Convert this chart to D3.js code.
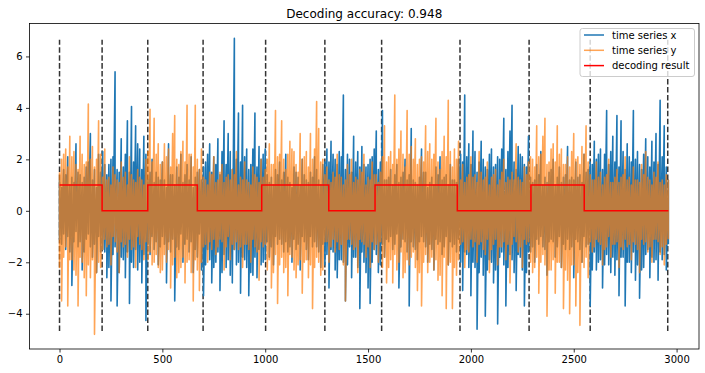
<!DOCTYPE html>
<html>
<head>
<meta charset="utf-8">
<script src="https://cdn.jsdelivr.net/npm/d3@7/dist/d3.min.js"></script>
<style>
  html, body { margin: 0; padding: 0; background: #fff; }
  svg { display: block; font-family: "DejaVu Sans", sans-serif; }
</style>
</head>
<body>
<div class="canvas"></div>
<script>
// the series are dense (about 5 samples per pixel), so they are kept as
// the high / low extremes per bin of 10 time steps
const BIN_STEP = 10;

// time series x (blue)
const xHigh = [
  1.2, 0.9, 1.6, 1.4, 2.1, 1.0, 1.3, 1.1, 2.6, 1.5,
  1.4, 1.1, 1.3, 1.7, 1.9, 3.0, 1.2, 1.6, 0.9, 2.2,
  1.5, 2.3, 1.8, 1.4, 1.8, 2.0, 2.1, 5.4, 1.6, 1.5,
  2.8, 1.7, 2.2, 3.5, 1.5, 4.05, 1.9, 3.3, 2.6, 2.4,
  1.6, 2.9, 2.2, 1.2, 1.5, 2.0, 1.1, 1.5, 1.3, 1.2,
  1.9, 1.2, 0.9, 2.6, 1.4, 1.4, 1.0, 1.7, 1.3, 2.2,
  1.1, 1.4, 1.8, 1.2, 2.1, 0.9, 1.3, 1.5, 1.6, 1.2,
  1.7, 1.9, 2.2, 2.6, 1.5, 2.1, 1.8, 2.8, 1.4, 2.3,
  3.5, 1.8, 3.0, 2.3, 1.6, 6.7, 2.0, 3.8, 1.9, 4.1,
  2.1, 2.4, 1.6, 1.8, 2.4, 3.8, 1.7, 2.5, 2.0, 2.2,
  2.4, 1.4, 1.1, 1.3, 1.0, 1.6, 1.4, 1.9, 1.2, 1.5,
  2.2, 1.3, 1.1, 0.9, 1.7, 1.5, 1.3, 1.0, 2.0, 1.4,
  1.2, 1.1, 1.5, 1.3, 2.1, 1.6, 1.2, 1.0, 1.8, 1.9,
  2.4, 1.9, 2.7, 2.2, 2.0, 1.8, 2.3, 2.1, 4.5, 1.6,
  2.2, 2.0, 1.5, 2.9, 1.9, 2.3, 1.7, 2.5, 1.8, 1.7,
  1.8, 2.0, 2.1, 2.4, 3.1, 1.6, 1.9, 3.9, 1.2, 1.2,
  1.3, 1.6, 1.0, 1.4, 1.8, 1.1, 1.3, 1.5, 2.0, 1.2,
  1.4, 3.2, 1.2, 1.1, 1.0, 1.3, 2.4, 1.5, 1.5, 0.9,
  1.1, 1.3, 1.0, 1.7, 1.4, 2.1, 1.2, 1.3, 1.4, 1.0,
  1.8, 1.2, 1.2, 1.1, 2.0, 2.2, 1.9, 4.5, 2.1, 2.6,
  1.8, 3.1, 2.3, 1.5, 1.9, 2.7, 2.0, 1.7, 1.6, 2.2,
  2.4, 1.7, 1.8, 2.1, 2.0, 2.4, 3.6, 1.6, 2.3, 3.1,
  4.1, 1.9, 1.6, 2.5, 2.2, 2.1, 1.8, 1.7, 2.9, 1.3,
  1.1, 1.2, 1.8, 1.4, 2.3, 1.0, 1.3, 1.1, 1.5, 1.6,
  2.0, 1.0, 1.3, 1.7, 1.1, 1.3, 1.4, 2.5, 1.2, 1.3,
  1.2, 1.9, 1.3, 1.4, 1.1, 2.2, 1.5, 1.6, 1.9, 1.8,
  2.7, 2.0, 2.2, 2.4, 1.6, 2.2, 3.9, 1.8, 2.3, 2.9,
  1.9, 3.7, 1.7, 3.5, 2.3, 1.6, 2.6, 2.1, 1.9, 3.9,
  2.0, 2.3, 1.8, 1.6, 2.2, 2.8, 2.1, 1.7, 2.7, 1.9,
  3.0, 1.8, 4.3, 2.1, 3.3, 1.7, 1.2
];
const xLow = [
  -1.1, -1.3, -0.9, -1.5, -1.0, -1.6, -2.9, -1.2, -0.8, -1.4,
  -1.2, -2.3, -1.6, -1.1, -0.9, -1.4, -1.8, -1.3, -2.4, -1.0,
  -1.6, -1.5, -1.6, -2.6, -2.2, -3.5, -1.7, -1.4, -3.7, -2.4,
  -1.8, -1.9, -2.6, -1.6, -3.6, -2.0, -2.2, -1.5, -2.3, -2.0,
  -2.8, -1.7, -4.26, -1.3, -1.7, -1.0, -1.5, -1.2, -2.1, -1.4,
  -1.0, -1.3, -2.8, -1.2, -1.6, -1.1, -3.5, -1.4, -1.5, -0.9,
  -2.0, -1.3, -1.1, -1.6, -1.2, -2.4, -1.5, -1.8, -0.9, -2.3,
  -3.3, -2.1, -1.5, -1.9, -2.8, -2.2, -2.0, -1.6, -3.1, -2.4,
  -1.7, -2.2, -1.9, -2.5, -2.8, -1.5, -2.1, -2.0, -3.2, -1.8,
  -1.9, -2.2, -3.3, -2.4, -2.5, -1.8, -2.6, -1.5, -2.1, -2.0,
  -1.9, -1.2, -1.8, -1.4, -2.1, -1.0, -1.3, -1.1, -1.3, -1.6,
  -1.2, -1.6, -1.4, -2.0, -1.1, -1.5, -1.3, -2.3, -1.0, -1.2,
  -1.5, -1.9, -1.0, -1.4, -1.2, -1.4, -1.6, -2.2, -1.3, -2.1,
  -1.7, -3.0, -1.5, -1.6, -2.3, -2.6, -1.9, -1.9, -2.0, -3.5,
  -2.1, -1.4, -2.6, -1.8, -1.8, -2.2, -3.8, -1.6, -2.0, -2.4,
  -3.0, -3.6, -2.0, -1.5, -1.7, -2.4, -2.1, -1.3, -1.8, -1.1,
  -1.2, -1.0, -1.5, -1.3, -0.9, -3.0, -1.4, -1.1, -1.2, -1.6,
  -3.7, -1.2, -1.4, -1.5, -1.9, -1.2, -1.0, -1.2, -1.4, -2.0,
  -1.3, -1.5, -2.3, -1.1, -1.3, -1.2, -1.7, -1.4, -1.0, -2.1,
  -1.2, -1.4, -1.3, -1.6, -1.1, -2.0, -3.1, -1.6, -1.7, -2.2,
  -3.3, -2.0, -2.2, -4.6, -2.4, -1.8, -2.5, -4.1, -2.3, -1.9,
  -2.0, -2.8, -2.3, -4.4, -1.8, -1.6, -2.1, -3.7, -2.2, -1.7,
  -1.9, -2.4, -3.1, -1.7, -1.8, -2.3, -3.7, -2.4, -1.6, -1.6,
  -1.4, -2.0, -1.1, -1.3, -1.0, -1.4, -1.5, -2.5, -1.2, -1.1,
  -1.2, -1.8, -1.4, -1.0, -2.2, -1.3, -1.5, -1.1, -1.5, -1.4,
  -2.6, -1.1, -1.2, -1.5, -2.0, -1.0, -1.4, -1.3, -3.7, -2.3,
  -1.6, -2.3, -2.0, -1.9, -3.0, -2.1, -1.7, -2.1, -2.4, -1.8,
  -2.5, -1.9, -3.3, -1.8, -1.8, -3.7, -2.0, -2.0, -2.4, -1.6,
  -2.7, -2.1, -3.4, -2.3, -2.2, -1.7, -1.5, -2.6, -1.8, -2.0,
  -1.9, -2.7, -1.6, -1.9, -1.7, -2.3, -1.3
];

// time series y (orange)
const yHigh = [
  1.5, 2.0, 2.2, 2.4, 1.7, 2.9, 2.1, 2.3, 1.8, 1.6,
  2.9, 2.2, 1.8, 1.9, 4.15, 2.0, 2.5, 1.7, 2.0, 3.5,
  2.2, 1.3, 2.4, 1.2, 1.3, 1.0, 1.7, 1.4, 1.2, 1.1,
  1.9, 1.3, 1.5, 1.0, 2.1, 1.4, 1.2, 1.1, 1.6, 1.3,
  1.2, 1.0, 2.0, 2.3, 3.95, 1.9, 3.6, 2.2, 2.6, 1.8,
  1.9, 2.6, 2.1, 2.4, 1.7, 3.0, 3.7, 2.0, 1.8, 2.3,
  2.7, 1.9, 4.1, 2.2, 2.2, 1.7, 4.1, 2.0, 1.6, 2.4,
  1.3, 1.2, 1.0, 1.5, 1.4, 2.1, 1.1, 1.2, 1.5, 1.8,
  1.1, 1.3, 1.4, 1.2, 1.6, 1.4, 2.3, 1.0, 1.3, 1.2,
  1.9, 1.2, 1.1, 1.0, 1.7, 1.4, 1.3, 1.1, 2.0, 1.3,
  1.6, 2.0, 2.6, 1.8, 1.8, 3.9, 2.1, 2.2, 3.5, 2.0,
  1.6, 2.2, 2.7, 2.4, 2.3, 1.8, 1.5, 3.0, 2.0, 2.1,
  2.3, 1.7, 3.0, 2.0, 2.4, 4.25, 3.2, 1.9, 2.0, 1.4,
  1.7, 1.2, 1.1, 1.5, 1.3, 2.2, 1.4, 1.3, 1.0, 1.2,
  1.8, 1.4, 2.0, 1.1, 1.3, 1.2, 1.6, 1.5, 2.2, 1.0,
  1.3, 1.2, 1.9, 1.4, 1.4, 1.1, 1.5, 2.1, 3.3, 1.9,
  2.1, 2.3, 1.8, 4.5, 2.0, 2.4, 3.1, 2.2, 1.7, 3.9,
  2.2, 2.5, 2.0, 2.8, 1.8, 2.0, 2.1, 1.9, 3.3, 2.3,
  2.6, 2.0, 2.2, 3.6, 1.9, 1.6, 2.3, 2.9, 2.1, 4.3,
  2.3, 1.7, 2.4, 2.0, 2.7, 1.2, 1.8, 1.1, 1.3, 1.4,
  2.1, 1.3, 1.4, 1.1, 2.3, 1.5, 1.2, 1.3, 1.9, 1.0,
  1.3, 1.4, 1.6, 1.0, 1.2, 1.5, 2.0, 1.1, 1.3, 1.2,
  1.5, 1.2, 2.6, 1.3, 1.2, 1.1, 1.7, 1.4, 1.9, 2.1,
  2.0, 1.7, 3.3, 2.1, 2.2, 2.9, 3.6, 1.8, 1.9, 2.4,
  2.6, 1.9, 3.3, 2.2, 2.4, 1.8, 1.8, 2.1, 1.7, 2.3,
  3.0, 2.0, 2.1, 1.8, 2.5, 2.2, 3.3, 1.9, 1.4, 1.2,
  1.2, 1.9, 1.3, 1.5, 1.0, 1.3, 1.4, 2.0, 1.1, 1.1,
  1.3, 1.6, 1.1, 1.3, 1.4, 2.1, 1.2, 1.3, 1.0, 1.7,
  1.2, 1.2, 1.1, 1.8, 1.4, 2.3, 1.3, 1.2, 1.0, 1.5,
  1.3, 1.9, 1.1, 1.2, 1.0, 1.4, 1.2
];
const yLow = [
  -2.2, -3.5, -1.8, -1.4, -3.7, -1.9, -1.9, -2.3, -2.5, -3.7,
  -1.8, -2.0, -2.6, -3.3, -2.1, -2.6, -1.9, -4.8, -2.4, -2.0,
  -2.2, -1.5, -1.1, -1.4, -1.3, -2.1, -1.0, -1.2, -1.6, -2.4,
  -1.2, -1.4, -1.3, -1.8, -1.1, -1.5, -1.4, -2.2, -1.0, -1.3,
  -1.5, -1.9, -1.2, -1.9, -1.6, -2.1, -2.0, -1.7, -2.2, -2.4,
  -2.3, -1.7, -2.0, -1.5, -3.0, -2.1, -1.8, -2.6, -2.4, -2.2,
  -1.8, -2.8, -2.0, -1.9, -2.4, -3.5, -1.9, -2.3, -3.1, -2.0,
  -1.4, -1.3, -2.0, -1.2, -1.5, -1.1, -1.7, -1.4, -1.1, -1.2,
  -2.3, -1.4, -1.0, -1.9, -1.3, -1.5, -1.2, -1.5, -1.4, -2.2,
  -1.3, -1.3, -1.5, -2.0, -1.1, -1.4, -1.6, -2.7, -1.2, -1.4,
  -1.3, -2.3, -1.9, -3.0, -2.4, -1.7, -3.6, -2.1, -1.8, -2.4,
  -2.2, -3.3, -1.7, -1.8, -2.3, -2.6, -2.1, -1.9, -3.2, -2.0,
  -1.9, -2.6, -2.1, -3.8, -2.2, -1.8, -2.0, -2.5, -2.3, -1.2,
  -1.2, -2.0, -1.4, -1.1, -1.6, -1.2, -1.5, -1.3, -2.1, -3.5,
  -1.1, -1.1, -1.3, -1.5, -1.4, -2.4, -1.1, -1.2, -1.3, -1.8,
  -1.4, -2.2, -1.2, -1.5, -1.3, -2.0, -1.2, -2.2, -1.8, -2.8,
  -2.2, -1.9, -2.8, -1.7, -2.3, -2.0, -1.6, -2.6, -2.4, -1.9,
  -2.1, -1.8, -1.6, -2.2, -3.1, -2.4, -3.7, -2.0, -1.7, -2.4,
  -2.0, -1.8, -2.3, -1.9, -2.7, -2.5, -3.3, -1.8, -3.8, -2.1,
  -2.0, -3.8, -2.2, -2.5, -1.9, -1.3, -1.2, -2.2, -1.5, -1.6,
  -1.1, -1.4, -1.2, -2.0, -1.3, -1.2, -1.5, -1.7, -1.1, -2.4,
  -1.5, -1.3, -1.1, -2.1, -1.4, -1.4, -1.2, -1.9, -1.3, -2.8,
  -1.3, -1.0, -1.2, -1.6, -1.4, -2.2, -1.1, -1.3, -1.2, -2.0,
  -2.4, -2.2, -1.8, -3.2, -2.0, -1.7, -2.1, -4.1, -2.3, -2.3,
  -1.9, -3.2, -2.0, -2.0, -2.2, -3.8, -2.3, -2.7, -4.0, -2.1,
  -2.1, -3.7, -2.4, -4.45, -2.0, -2.2, -1.8, -2.6, -1.2, -1.6,
  -1.4, -1.1, -1.2, -1.3, -2.1, -1.5, -1.4, -1.0, -1.8, -1.3,
  -1.3, -1.2, -2.2, -1.4, -1.5, -1.1, -1.4, -1.3, -1.9, -1.2,
  -1.3, -1.5, -2.4, -1.1, -1.3, -1.2, -1.6, -1.4, -2.0, -1.1,
  -1.1, -1.2, -1.7, -1.4, -2.1, -1.3, -1.1
];

// true change points (dashed lines) and their vertical extent
const changePoints = [0, 207, 429, 698, 1002, 1290, 1566, 1947, 2283, 2580, 2957];
const changeLineSpan = [-4.67, 6.65];

// decoding result: state starts and values
const decodeStarts = [0, 207, 429, 670, 983, 1309, 1534, 1934, 2292, 2551];
const decodeStates = [1, 0, 1, 0, 1, 0, 1, 0, 1, 0];
const decodeEnd = 2960;

const xTicks = [0, 500, 1000, 1500, 2000, 2500, 3000];
const yTicks = [-4, -2, 0, 2, 4, 6];
const legendLabels = ['time series x', 'time series y', 'decoding result'];
const titleText = 'Decoding accuracy: 0.948';

const width = 705, height = 373;
const margin = {top: 23.5, right: 6, bottom: 24, left: 29.5};
const graphWidth = width - margin.left - margin.right;
const graphHeight = height - margin.top - margin.bottom;

const colors = {x: '#1f77b4', y: '#ff7f0e', decode: '#ff0000'};

const svg = d3.select('.canvas')
  .append('svg')
  .attr('width', width)
  .attr('height', height);

const graph = svg.append('g')
  .attr('transform', `translate(${margin.left}, ${margin.top})`);

// scales
const x = d3.scaleLinear().domain([-146, 3109]).range([0, graphWidth]);
const y = d3.scaleLinear().domain([-5.37, 7.28]).range([graphHeight, 0]);

// dashed change point lines (behind the series)
graph.append('g')
  .selectAll('line')
  .data(changePoints)
  .enter().append('line')
    .attr('x1', d => x(d))
    .attr('x2', d => x(d))
    .attr('y1', y(changeLineSpan[0]))
    .attr('y2', y(changeLineSpan[1]))
    .attr('stroke', '#000')
    .attr('stroke-opacity', 0.8)
    .attr('stroke-width', 1.5)
    .attr('stroke-dasharray', '5.55,2.4');

// each bin becomes a vertical stroke high -> low, then the line jumps
// up to the next bin's high (nearly vertical too), like the dense original
function binPoints(high, low) {
  const pts = [];
  high.forEach((h, i) => {
    const t = i * BIN_STEP;
    pts.push({t, v: h}, {t, v: low[i]});
  });
  return pts;
}

const seriesLine = d3.line()
  .x(d => x(d.t))
  .y(d => y(d.v));

graph.append('path')
  .datum(binPoints(xHigh, xLow))
  .attr('fill', 'none')
  .attr('stroke', colors.x)
  .attr('stroke-width', 1.6)
  .attr('stroke-linejoin', 'round')
  .attr('d', seriesLine);

graph.append('path')
  .datum(binPoints(yHigh, yLow))
  .attr('fill', 'none')
  .attr('stroke', colors.y)
  .attr('stroke-opacity', 0.7)
  .attr('stroke-width', 1.6)
  .attr('stroke-linejoin', 'round')
  .attr('d', seriesLine);

// decoding result as a step line
const decodePoints = decodeStarts.map((s, i) => ({t: s, v: decodeStates[i]}));
decodePoints.push({t: decodeEnd, v: decodeStates[decodeStates.length - 1]});

const stepLine = d3.line()
  .x(d => x(d.t))
  .y(d => y(d.v))
  .curve(d3.curveStepAfter);

graph.append('path')
  .datum(decodePoints)
  .attr('fill', 'none')
  .attr('stroke', colors.decode)
  .attr('stroke-width', 1.5)
  .attr('d', stepLine);

// axes
const xAxis = d3.axisBottom(x).tickValues(xTicks).tickFormat(d3.format('d'))
  .tickSize(3.5).tickPadding(3.5).tickSizeOuter(0);
const yAxis = d3.axisLeft(y).tickValues(yTicks)
  .tickSize(3.5).tickPadding(3.5).tickSizeOuter(0);

const xAxisGroup = graph.append('g')
  .attr('transform', `translate(0, ${graphHeight})`)
  .call(xAxis);
const yAxisGroup = graph.append('g').call(yAxis);

[xAxisGroup, yAxisGroup].forEach(g => {
  g.select('.domain').remove();
  g.selectAll('line').attr('stroke', '#000').attr('stroke-width', 0.8);
  g.selectAll('text')
    .attr('fill', '#000')
    .style('font-family', '"DejaVu Sans", sans-serif')
    .style('font-size', '10px');
});

// frame
graph.append('rect')
  .attr('width', graphWidth)
  .attr('height', graphHeight)
  .attr('fill', 'none')
  .attr('stroke', '#000')
  .attr('stroke-width', 0.8);

// title
svg.append('text')
  .attr('x', margin.left + graphWidth / 2)
  .attr('y', 17.5)
  .attr('text-anchor', 'middle')
  .style('font-size', '12px')
  .attr('fill', '#000')
  .text(titleText);

// legend
const legend = svg.append('g').attr('transform', 'translate(580, 28.5)');
legend.append('rect')
  .attr('width', 114.5)
  .attr('height', 48)
  .attr('rx', 2.5)
  .attr('fill', '#fff')
  .attr('fill-opacity', 0.8)
  .attr('stroke', '#cccccc')
  .attr('stroke-width', 1);

const legendColors = [colors.x, colors.y, colors.decode];
const legendOpacity = [1, 0.7, 1];
legendLabels.forEach((label, i) => {
  const row = legend.append('g').attr('transform', `translate(0, ${6.5 + i * 15.3})`);
  row.append('line')
    .attr('x1', 4).attr('x2', 24)
    .attr('stroke', legendColors[i])
    .attr('stroke-opacity', legendOpacity[i])
    .attr('stroke-width', 1.5);
  row.append('text')
    .attr('x', 32)
    .attr('dy', '0.35em')
    .style('font-size', '10px')
    .attr('fill', '#000')
    .text(label);
});
</script>
</body>
</html>
